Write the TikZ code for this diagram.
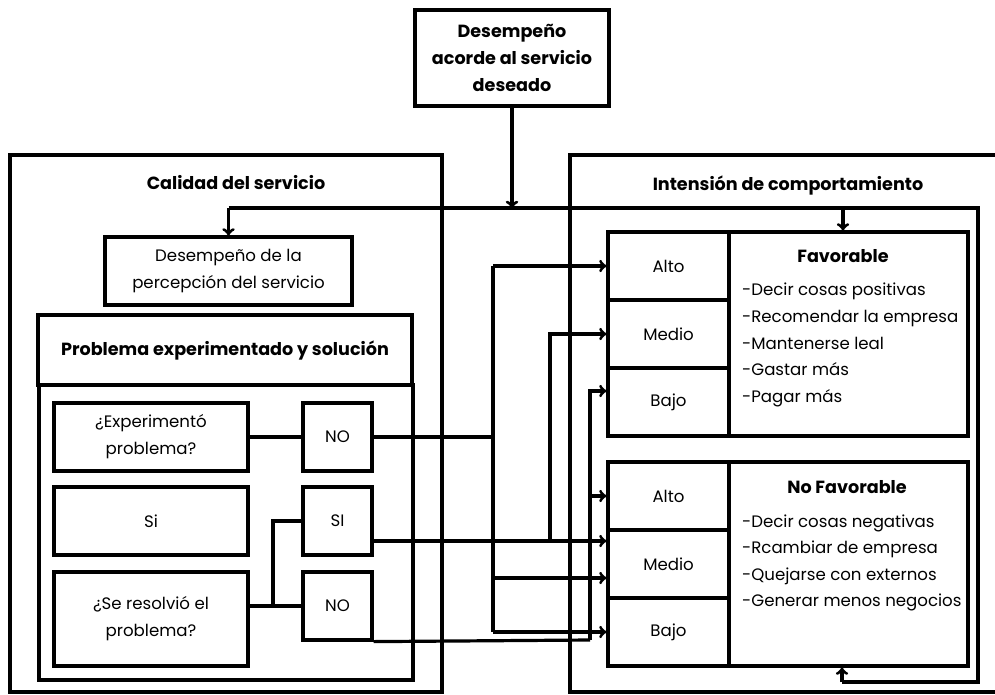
\documentclass[tikz,border=0pt]{standalone}
\usepackage{fontspec}
\setmainfont{Poppins}
\usetikzlibrary{shapes, arrows}
\tikzstyle{box} = [rectangle, draw, line width=3.2pt, align=center, inner sep=0pt, font=\fontsize{16.6}{27}\selectfont]
\tikzstyle{cell} = [box, minimum width=121pt, minimum height=68pt]
\tikzstyle{ans} = [box, minimum width=69pt, minimum height=68pt]
\tikzstyle{quest} = [box, minimum width=194pt, minimum height=68pt]
\tikzstyle{title} = [font=\bfseries\fontsize{17.6}{27}\selectfont, align=center, inner sep=0pt]
\tikzstyle{items} = [font=\fontsize{16.6}{26.6}\selectfont, align=left, anchor=west, inner sep=0pt]
\tikzstyle{line} = [draw, line width=3.2pt, -to]
\tikzstyle{wire} = [draw, line width=3.2pt]

\begin{document}
\begin{tikzpicture}[x=1pt, y=-1pt]
    \useasboundingbox (0,0) rectangle (995,694);
    \clip (0,0) rectangle (995,694);

    % top box
    \node[box, font=\bfseries\fontsize{17.6}{27}\selectfont, minimum width=194pt, minimum height=96pt] (top) at (512,58) {Desempeño\\acorde al servicio\\deseado};

    % left side
    \node[box, minimum width=432pt, minimum height=537pt] (calbox) at (226,423.5) {};
    \node[title] (caltitle) at (236,183) {Calidad del servicio};
    \node[box, minimum width=247pt, minimum height=68pt] (percep) at (228.5,271) {Desempeño de la\\percepción del servicio};
    \node[box, font=\bfseries\fontsize{17.6}{27}\selectfont, minimum width=374pt, minimum height=70pt] (probhead) at (225,350) {Problema experimentado y solución};
    \node[box, minimum width=374pt, minimum height=295pt] (probbody) at (226,532.5) {};
    \node[quest] (exp) at (151,437) {¿Experimentó\\problema?};
    \node[ans] (no1) at (337.5,437) {NO};
    \node[quest] (si) at (151,521) {Si};
    \node[ans] (si2) at (337.5,521) {SI};
    \node[quest, minimum height=94pt] (res) at (151,619) {¿Se resolvió el\\problema?};
    \node[ans] (no2) at (337.5,606) {NO};

    % right side
    \node[box, minimum width=440pt, minimum height=537pt] (intbox) at (790,423.5) {};
    \node[title] (inttitle) at (788,185) {Intensión de comportamiento};

    \node[cell] (falto) at (668.5,266) {Alto};
    \node[cell] (fmedio) at (668.5,334) {Medio};
    \node[cell] (fbajo) at (668.5,402) {Bajo};
    \node[box, minimum width=239pt, minimum height=204pt] (ftext) at (848.5,334) {};
    \node[title] (ftitle) at (843,256) {Favorable};
    \node[items] (flist) at (742,345) {-Decir cosas positivas\\-Recomendar la empresa\\-Mantenerse leal\\-Gastar más\\-Pagar más};

    \node[cell] (nalto) at (668.5,496) {Alto};
    \node[cell] (nmedio) at (668.5,564) {Medio};
    \node[cell] (nbajo) at (668.5,632) {Bajo};
    \node[box, minimum width=239pt, minimum height=204pt] (ntext) at (848.5,564) {};
    \node[title] (ntitle) at (847,487) {No Favorable};
    \node[items] (nlist) at (742,563) {-Decir cosas negativas\\-Rcambiar de empresa\\-Quejarse con externos\\-Generar menos negocios};

    % feedback from the top box
    \coordinate (split) at (512,208);
    \coordinate (feedR) at (978,208);
    \coordinate (feedB) at (842,682);
    \path[line] (top.south) -- (split);
    \path[wire] (split -| percep.north) -- (feedR) -- (feedR |- feedB) -- (feedB);
    \path[line] (split -| percep.north) -- (percep.north);
    \path[line] (ftitle |- split) -- (ftitle |- ftext.north);
    \path[line] (feedB) -- (feedB |- ntext.south);

    % answers
    \coordinate (join) at (273,606);
    \path[wire] (exp) -- (no1);
    \path[wire] (res.east |- no2) -- (no2.west);
    \path[wire] (join) |- (si2.west);

    % NO: no problem
    \coordinate (busA) at (493,266);
    \coordinate (nmedioIn) at ([yshift=-14pt]nmedio.west);
    \path[wire] (no1.east) -- (no1.east -| busA);
    \path[wire] (busA |- falto.west) -- (busA |- nbajo.west);
    \path[line] (busA |- falto.west) -- (falto.west);
    \path[line] (nmedioIn -| busA) -- (nmedioIn);
    \path[line] (busA |- nbajo.west) -- (nbajo.west);

    % SI: solved
    \coordinate (siOut) at ([yshift=-20pt]si2.east);
    \coordinate (busB) at (550,541);
    \path[line] (siOut) -- (siOut -| nmedio.west);
    \path[line] (busB) |- (fmedio.west);

    % NO: not solved
    \coordinate (busC) at (590,640);
    \coordinate (fbajoIn) at ([yshift=11pt]fbajo.west);
    \path[wire] (no2.south east) -- (busC);
    \path[line] (busC) |- (fbajoIn);
    \path[line] (busC |- nalto.west) -- (nalto.west);
\end{tikzpicture}
\end{document}
